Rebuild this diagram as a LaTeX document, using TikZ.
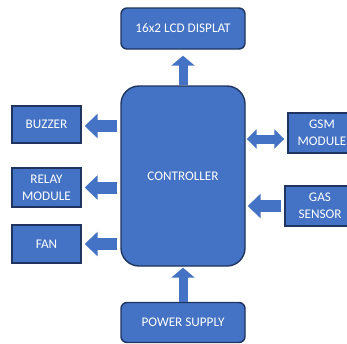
\documentclass[tikz,border=0pt]{standalone}
\usepackage{fontspec}
\setmainfont{Carlito}
\usetikzlibrary{arrows.meta,calc}
\definecolor{boxblue}{HTML}{4472C4}
\definecolor{boxedge}{HTML}{1F3560}
\tikzset{
  txt/.style={text=white, align=center, inner sep=0pt, font=\fontsize{13.2}{17}\selectfont},
  blk/.style={draw=boxedge, fill=boxblue, line width=1.4pt, txt},
  fatarrow/.style={draw=boxblue, line width=12pt, -{Triangle[width=24pt,length=13pt]}},
  thinarrow/.style={draw=boxblue, line width=9pt, -{Triangle[width=23pt,length=10pt]}},
  dblarrow/.style={draw=boxblue, line width=9pt, {Triangle[width=19pt,length=10pt]}-{Triangle[width=19pt,length=10pt]}}
}
\begin{document}
\begin{tikzpicture}[x=1pt,y=-1pt]
\useasboundingbox (0,0) rectangle (347,343);
\fill[white] (0,0) rectangle (347,343);
\begin{scope}
\clip (0,0) rectangle (347,343);
\node[blk, minimum width=124pt, minimum height=41pt, rounded corners=6pt] (lcd) at (183,28.5) {16x2 LCD DISPLAT};
\node[blk, minimum width=124pt, minimum height=180pt, rounded corners=18pt] (ctrl) at (183,176) {};
\node[txt] (ctrltxt) at (183,176) {CONTROLLER};
\node[blk, minimum width=69pt, minimum height=37pt] (buzzer) at (46.5,124.5) {BUZZER};
\node[blk, minimum width=69pt, minimum height=39pt] (relay) at (46.5,187.5) {RELAY\\MODULE};
\node[blk, minimum width=69pt, minimum height=38pt] (fan) at (46.5,244) {FAN};
\node[blk, minimum width=80pt, minimum height=40pt] (gsm) at (328,133) {};
\node[txt] (gsmtxt) at (322,133) {GSM\\MODULE};
\node[blk, minimum width=80pt, minimum height=40pt] (gas) at (325,206) {};
\node[txt] (gastxt) at (320,206) {GAS\\SENSOR};
\node[blk, minimum width=124pt, minimum height=40pt, rounded corners=6pt] (power) at (183,322.5) {POWER SUPPLY};
\end{scope}
% arrows
\draw[thinarrow] (ctrl.north) -- ([yshift=-6pt]lcd.south);
\draw[thinarrow] (power.north) -- ([yshift=-1pt]ctrl.south);
\draw[fatarrow] ([xshift=-3pt]ctrl.west |- 0,126) coordinate (b1) -- ([xshift=3pt]buzzer.east |- b1);
\draw[fatarrow] ([xshift=-3pt]ctrl.west |- relay.east) -- ([xshift=3pt]relay.east);
\draw[fatarrow] ([xshift=-3pt]ctrl.west |- fan.east) -- ([xshift=3pt]fan.east);
\draw[dblarrow] ([xshift=1pt]ctrl.east |- 0,139) coordinate (g1) -- ([xshift=-3pt]gsm.west |- g1);
\draw[fatarrow] ([xshift=-3pt]gas.west) -- ([xshift=2pt]ctrl.east |- gas.west);
\end{tikzpicture}
\end{document}
